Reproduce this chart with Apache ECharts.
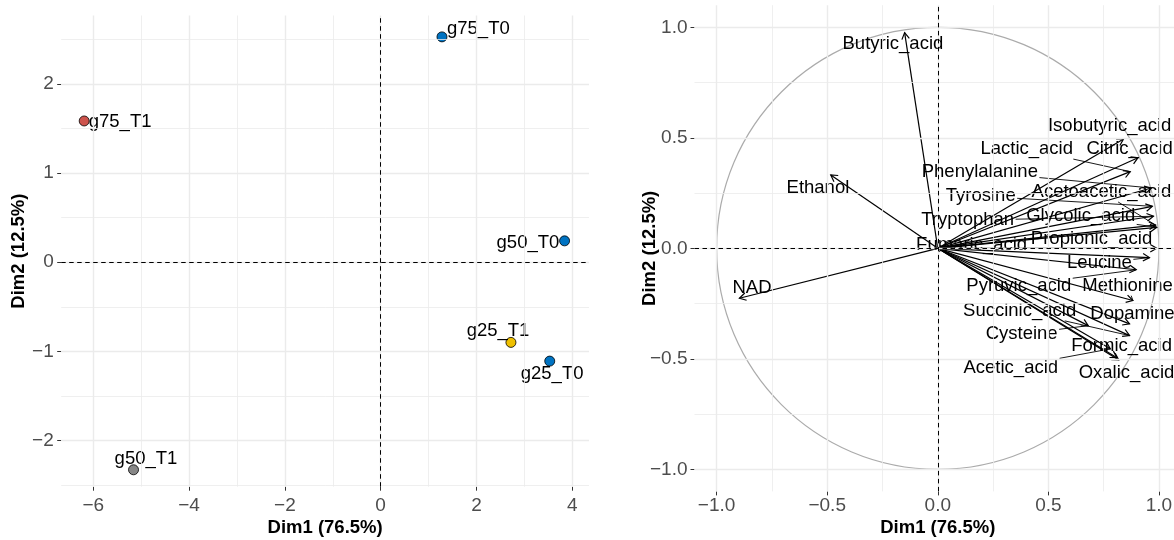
<!DOCTYPE html>
<html><head><meta charset="utf-8">
<script src="https://cdn.jsdelivr.net/npm/echarts@6/dist/echarts.min.js"></script>
<style>html,body{margin:0;padding:0;background:#fff}#c{width:1174px;height:540px}</style>
</head><body><div id="c"></div>
<script>
// ---------- DATA ----------
// Individuals (left panel)
const indNames   = ['g75_T0','g75_T1','g50_T0','g25_T1','g25_T0','g50_T1'];
const indDim1    = [1.28, -6.19, 3.84, 2.72, 3.53, -5.16];
const indDim2    = [2.53, 1.586, 0.24, -0.90, -1.11, -2.33];
const indGroup   = ['T0','g75_T1','T0','g25_T1','T0','g50_T1'];
// repelled label positions (data units)
const indLabDim1 = [2.04, -5.44, 3.075, 2.45, 3.58, -4.90];
const indLabDim2 = [2.62, 1.575, 0.222, -0.775, -1.257, -2.21];

// Variables (right panel)
const varNames = ['Butyric_acid','Ethanol','NAD','Isobutyric_acid','Citric_acid','Lactic_acid',
  'Phenylalanine','Tyrosine','Tryptophan','Acetoacetic_acid','Glycolic_acid','Propionic_acid',
  'Fumaric_acid','Leucine','Pyruvic_acid','Methionine','Dopamine','Succinic_acid','Cysteine',
  'Formic_acid','Oxalic_acid','Acetic_acid'];
const varDim1 = [-0.15,-0.484,-0.897,0.84,0.905,0.87,0.965,0.97,0.975,0.985,0.99,0.99,
  0.03,0.957,0.897,0.882,0.867,0.867,0.68,0.81,0.818,0.78];
const varDim2 = [0.976,0.332,-0.226,0.495,0.41,0.347,0.273,0.19,0.145,0.105,0.095,0.0,
  0.003,-0.042,-0.097,-0.236,-0.342,-0.395,-0.35,-0.495,-0.505,-0.455];
const varLabDim1 = [-0.203,-0.542,-0.84,0.777,0.867,0.402,0.19,0.194,0.135,0.74,0.646,0.695,
  0.153,0.731,0.366,0.858,0.88,0.37,0.379,0.831,0.853,0.33];
const varLabDim2 = [0.923,0.273,-0.177,0.555,0.45,0.45,0.345,0.236,0.127,0.256,0.145,0.044,
  0.014,-0.067,-0.168,-0.168,-0.297,-0.282,-0.388,-0.441,-0.562,-0.539];

// Ticks
const leftXTicks = [-6,-4,-2,0,2,4];
const leftXMinor = [-5,-3,-1,1,3];
const leftYTicks = [-2,-1,0,1,2];
const leftYMinor = [-2.5,-1.5,-0.5,0.5,1.5,2.5];
const rightTicks = [-1,-0.5,0,0.5,1];
const rightMinor = [-0.75,-0.25,0.25,0.75];

// ---------- STYLE ----------
const FONT = '"Liberation Sans", Arial, Helvetica, sans-serif';
const palette = {'T0':'#0073C2','g75_T1':'#CD534C','g25_T1':'#EFC000','g50_T1':'#868686'};
const LAB_FS = 18.5;
const GRID_C = '#EBEBEB';

const measCtx = document.createElement('canvas').getContext('2d');
function textW(t, fs){ measCtx.font = fs + 'px ' + FONT; return measCtx.measureText(t).width; }

const minus = s => s.replace('-', '\u2212');
const fmtInt = v => minus(String(v));
const fmt1 = v => minus((Math.abs(v) < 1e-9 ? 0 : v).toFixed(1));

function axisCommon(ticks, fmt, margin, name, nameGap){
  return {
    type:'value',
    axisLine:{show:false, onZero:false},
    splitLine:{show:false},
    minorSplitLine:{show:false},
    axisTick:{show:true, length:4, lineStyle:{color:'#333333', width:1}, customValues:ticks},
    axisLabel:{customValues:ticks, formatter:fmt, color:'#4D4D4D', fontSize:19, fontFamily:FONT, margin:margin},
    name:name, nameLocation:'middle', nameGap:nameGap, nameMoveOverlap:false,
    nameTextStyle:{fontWeight:'bold', fontSize:18.5, color:'#000', fontFamily:FONT}
  };
}

function gridLines(idx, xMaj, xMin, yMaj, yMin){
  const d = [];
  xMin.forEach(v=>d.push({xAxis:v, lineStyle:{color:GRID_C, width:0.8, type:'solid'}}));
  yMin.forEach(v=>d.push({yAxis:v, lineStyle:{color:GRID_C, width:0.8, type:'solid'}}));
  xMaj.forEach(v=>d.push({xAxis:v, lineStyle:{color:GRID_C, width:1.4, type:'solid'}}));
  yMaj.forEach(v=>d.push({yAxis:v, lineStyle:{color:GRID_C, width:1.4, type:'solid'}}));
  return {type:'line', xAxisIndex:idx, yAxisIndex:idx, data:[[0,0]], symbol:'none', showSymbol:false,
    lineStyle:{opacity:0}, silent:true, z:0, animation:false,
    markLine:{silent:true, symbol:['none','none'], label:{show:false}, animation:false, data:d}};
}
function zeroLines(idx){
  const ls = {color:'#000', width:1, type:[4.5,3.5]};
  return {type:'line', xAxisIndex:idx, yAxisIndex:idx, data:[[0,0]], symbol:'none', showSymbol:false,
    lineStyle:{opacity:0}, silent:true, z:1, animation:false,
    markLine:{silent:true, symbol:['none','none'], label:{show:false}, animation:false,
      data:[{xAxis:0, lineStyle:ls},{yAxis:0, lineStyle:ls}]}};
}

// ---------- SERIES ----------
const series = [];
series.push(gridLines(0, leftXTicks, leftXMinor, leftYTicks, leftYMinor));
series.push(gridLines(1, rightTicks, rightMinor, rightTicks, rightMinor));
series.push(zeroLines(0));
series.push(zeroLines(1));

// points
series.push({
  type:'scatter', xAxisIndex:0, yAxisIndex:0, z:3, animation:false, symbolSize:10,
  data: indNames.map((n,i)=>({value:[indDim1[i], indDim2[i]], itemStyle:{color:palette[indGroup[i]], borderColor:'#000', borderWidth:0.8, opacity:1}}))
});
// point labels
series.push({
  type:'custom', xAxisIndex:0, yAxisIndex:0, z:4, animation:false, silent:true,
  data: indNames.map((n,i)=>[indLabDim1[i], indLabDim2[i]]),
  encode:{x:0, y:1},
  renderItem:(params, api)=>{
    const p = api.coord([api.value(0), api.value(1)]);
    return {type:'text', style:{text:indNames[params.dataIndex], x:p[0], y:p[1], align:'center', verticalAlign:'middle',
      fontSize:LAB_FS, fontFamily:FONT, fill:'#000'}};
  }
});

// correlation circle
series.push({
  type:'custom', xAxisIndex:1, yAxisIndex:1, z:2, animation:false, silent:true,
  data:[[0,0]], encode:{x:0, y:1},
  renderItem:(params, api)=>{
    const c = api.coord([0,0]);
    const s = api.size([1,1]);
    return {type:'ellipse', shape:{cx:c[0], cy:c[1], rx:s[0], ry:s[1]}, style:{fill:null, stroke:'#ABABAB', lineWidth:1.2}};
  }
});

// arrows
series.push({
  type:'custom', xAxisIndex:1, yAxisIndex:1, z:3, animation:false, silent:true,
  data: varNames.map((n,i)=>[varDim1[i], varDim2[i]]), encode:{x:0, y:1},
  renderItem:(params, api)=>{
    const o = api.coord([0,0]);
    const t = api.coord([api.value(0), api.value(1)]);
    const ang = Math.atan2(t[1]-o[1], t[0]-o[0]);
    const L = 7.5, a = Math.PI/6;
    const h1 = [t[0]-L*Math.cos(ang-a), t[1]-L*Math.sin(ang-a)];
    const h2 = [t[0]-L*Math.cos(ang+a), t[1]-L*Math.sin(ang+a)];
    return {type:'group', children:[
      {type:'line', shape:{x1:o[0], y1:o[1], x2:t[0], y2:t[1]}, style:{stroke:'#000', lineWidth:1.2}},
      {type:'polyline', shape:{points:[h1, t, h2]}, style:{stroke:'#000', lineWidth:1.2, fill:null}}
    ]};
  }
});

// variable labels with leader segments
series.push({
  type:'custom', xAxisIndex:1, yAxisIndex:1, z:4, animation:false, silent:true,
  data: varNames.map((n,i)=>[varLabDim1[i], varLabDim2[i], varDim1[i], varDim2[i]]), encode:{x:0, y:1},
  renderItem:(params, api)=>{
    const name = varNames[params.dataIndex];
    const p = api.coord([api.value(0), api.value(1)]);
    const t = api.coord([api.value(2), api.value(3)]);
    const children = [];
    const hw = textW(name, LAB_FS)/2 + 1.5, hh = LAB_FS*0.5 + 1;
    const dx = t[0]-p[0], dy = t[1]-p[1];
    if (Math.abs(dx) > hw || Math.abs(dy) > hh) {
      const s = Math.min(dx!==0 ? hw/Math.abs(dx) : Infinity, dy!==0 ? hh/Math.abs(dy) : Infinity);
      const sx = p[0]+dx*s, sy = p[1]+dy*s;
      const len = Math.hypot(t[0]-sx, t[1]-sy);
      if (len > 5) children.push({type:'line', shape:{x1:sx, y1:sy, x2:t[0], y2:t[1]}, style:{stroke:'#000', lineWidth:0.9}});
    }
    children.push({type:'text', style:{text:name, x:p[0], y:p[1], align:'center', verticalAlign:'middle',
      fontSize:LAB_FS, fontFamily:FONT, fill:'#000'}});
    return {type:'group', children};
  }
});

const option = {
  backgroundColor:'#ffffff',
  animation:false,
  grid:[
    {left:61.2, top:15.5, width:527.8, height:471.2, containLabel:false, outerBoundsMode:'none'},
    {left:694.5, top:5.2, width:486.6, height:486.2, containLabel:false, outerBoundsMode:'none'}
  ],
  xAxis:[
    Object.assign(axisCommon(leftXTicks, fmtInt, 9.5, 'Dim1 (76.5%)', 32), {gridIndex:0, min:-6.67, max:4.35}),
    Object.assign(axisCommon(rightTicks, fmt1, 5, 'Dim1 (76.5%)', 27.5), {gridIndex:1, min:-1.1, max:1.1})
  ],
  yAxis:[
    Object.assign(axisCommon(leftYTicks, fmtInt, 7.5, 'Dim2 (12.5%)', 33), {gridIndex:0, min:-2.52, max:2.77}),
    Object.assign(axisCommon(rightTicks, fmt1, 7, 'Dim2 (12.5%)', 35), {gridIndex:1, min:-1.1, max:1.1})
  ],
  series
};
const chart = echarts.init(document.getElementById('c'), null, {renderer:'canvas'});
chart.setOption(option);
</script></body></html>
